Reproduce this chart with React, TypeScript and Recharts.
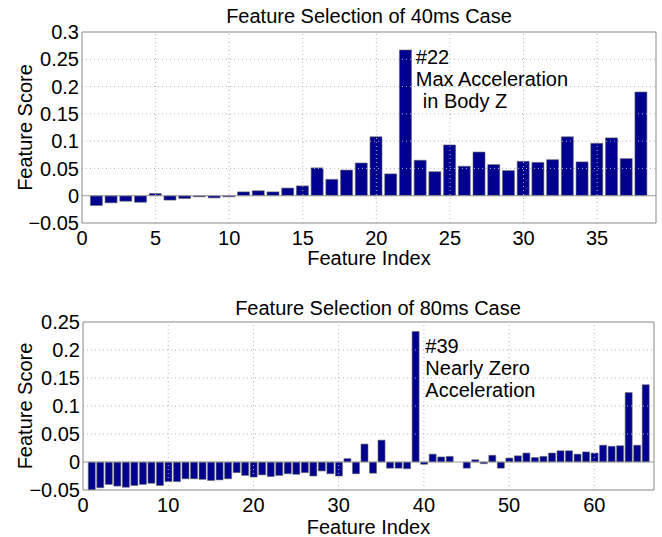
import { BarChart, Bar, XAxis, YAxis, ReferenceLine, ReferenceDot } from 'recharts';

// feature selection, 40ms window
const index40 = [1, 2, 3, 4, 5, 6, 7, 8, 9, 10, 11, 12, 13, 14, 15, 16, 17, 18, 19, 20,
  21, 22, 23, 24, 25, 26, 27, 28, 29, 30, 31, 32, 33, 34, 35, 36, 37, 38];
const scores40 = [-0.018, -0.013, -0.010, -0.012, 0.004, -0.008, -0.005, -0.002, -0.004, -0.002,
  0.007, 0.009, 0.007, 0.014, 0.018, 0.051, 0.030, 0.047, 0.060, 0.108,
  0.040, 0.267, 0.065, 0.044, 0.093, 0.054, 0.080, 0.057, 0.046, 0.063,
  0.061, 0.066, 0.108, 0.062, 0.096, 0.106, 0.068, 0.190];
const xTicks40 = [0, 5, 10, 15, 20, 25, 30, 35];
const yTicks40 = [-0.05, 0, 0.05, 0.1, 0.15, 0.2, 0.25, 0.3];
const note40 = ['#22', 'Max Acceleration', 'in Body Z'];

// feature selection, 80ms window
const index80 = [1, 2, 3, 4, 5, 6, 7, 8, 9, 10, 11, 12, 13, 14, 15, 16, 17, 18, 19, 20,
  21, 22, 23, 24, 25, 26, 27, 28, 29, 30, 31, 32, 33, 34, 35, 36, 37, 38, 39, 40,
  41, 42, 43, 44, 45, 46, 47, 48, 49, 50, 51, 52, 53, 54, 55, 56, 57, 58, 59, 60,
  61, 62, 63, 64, 65, 66];
const scores80 = [-0.050, -0.046, -0.040, -0.043, -0.045, -0.042, -0.040, -0.038, -0.042, -0.035,
  -0.035, -0.030, -0.030, -0.031, -0.033, -0.032, -0.030, -0.019, -0.024, -0.027,
  -0.023, -0.026, -0.024, -0.021, -0.022, -0.019, -0.025, -0.016, -0.021, -0.025,
  0.006, -0.021, 0.032, -0.020, 0.039, -0.011, -0.011, -0.012, 0.233, -0.004,
  0.014, 0.009, 0.010, 0, -0.011, 0.004, -0.003, 0.012, -0.011, 0.007,
  0.011, 0.016, 0.008, 0.010, 0.016, 0.020, 0.020, 0.014, 0.018, 0.016,
  0.030, 0.028, 0.029, 0.124, 0.030, 0.138];
const xTicks80 = [0, 10, 20, 30, 40, 50, 60];
const yTicks80 = [-0.05, 0, 0.05, 0.1, 0.15, 0.2, 0.25];
const note80 = ['#39', 'Nearly Zero', 'Acceleration'];

const FONT = '"Liberation Sans", Arial, sans-serif';
const BAR = '#00008F';
const AXIS = '#888';
const GRID = '#b4b4b4';

const fmtY = (v: number) => String(Math.round(v * 100) / 100).replace('-', '\u2212');

// text block next to a highlighted bar
const noteLabel = (lines: string[], dx: number, dy: number, indent: number[]) => (props: any) => {
  const { viewBox } = props;
  const x = viewBox.x + dx;
  const y = viewBox.y + dy;
  return (
    <text x={x} y={y} fontSize={20} fontFamily={FONT} fill="#000">
      {lines.map((l, i) => (
        <tspan key={i} x={x + (indent[i] || 0)} dy={i === 0 ? 0 : 22}>{l}</tspan>
      ))}
    </text>
  );
};

function Panel(props: {
  idx: number[]; vals: number[]; xMax: number; xTicks: number[]; yTicks: number[];
  height: number; top: number; right: number; xH: number; yW: number; barSize: number;
  hi: number; note: string[]; ndx: number; ndy: number; indent: number[]; labelOff: number;
}) {
  const data = props.idx.map((n, i) => ({ idx: n, score: props.vals[i] }));
  const yMin = props.yTicks[0];
  const yMax = props.yTicks[props.yTicks.length - 1];
  const tick = { fill: '#000', fontSize: 20, fontFamily: FONT };
  return (
    <BarChart width={662} height={props.height} data={data}
      margin={{ top: props.top, right: props.right, bottom: 0, left: 0 }}>
      <XAxis dataKey="idx" type="number" domain={[0, props.xMax]} ticks={props.xTicks}
        interval={0} allowDataOverflow height={props.xH} stroke={AXIS} tickLine={false} tick={tick}
        label={{ value: 'Feature Index', position: 'insideBottom', offset: props.labelOff, fill: '#000', fontSize: 20, fontFamily: FONT }} />
      <YAxis type="number" domain={[yMin, yMax]} ticks={props.yTicks} interval={0} allowDataOverflow
        width={props.yW} stroke={AXIS} tickLine={false} tickSize={0} tickMargin={3}
        tickFormatter={fmtY} tick={tick}
        label={{ value: 'Feature Score', angle: -90, position: 'insideLeft', offset: 25,
          fill: '#000', fontSize: 20, fontFamily: FONT, style: { textAnchor: 'middle' } }} />
      {/* dotted grid */}
      {props.xTicks.slice(1).map(t => (
        <ReferenceLine key={'gx' + t} x={t} stroke={GRID} strokeDasharray="1 3" />
      ))}
      {props.yTicks.slice(1, -1).filter(t => t !== 0).map(t => (
        <ReferenceLine key={'gy' + t} y={t} stroke={GRID} strokeDasharray="1 3" />
      ))}
      <ReferenceLine y={yMax} stroke={AXIS} />
      <ReferenceLine x={props.xMax} stroke={AXIS} />
      <Bar dataKey="score" fill={BAR} stroke="#666" strokeWidth={0.6} barSize={props.barSize}
        isAnimationActive={false} />
      <ReferenceLine y={0} stroke="#999" />
      <ReferenceDot x={props.hi} y={props.vals[props.hi - 1]} r={0} fill="none" stroke="none"
        label={noteLabel(props.note, props.ndx, props.ndy, props.indent)} />
    </BarChart>
  );
}

export default function App() {
  const title = { position: 'absolute' as const, textAlign: 'center' as const,
    fontSize: 20, lineHeight: '20px', fontFamily: FONT, color: '#000' };
  return (
    <div style={{ position: 'absolute', left: 0, top: 0, width: 662, height: 537, background: '#fff' }}>
      <div style={{ position: 'absolute', left: 0, top: 0 }}>
        <Panel idx={index40} vals={scores40} xMax={39} xTicks={xTicks40} yTicks={yTicks40}
          height={280} top={32} right={6} xH={57} yW={82} barSize={12}
          hi={22} note={note40} ndx={10} ndy={14} indent={[0, 0, 7]} labelOff={15} />
      </div>
      <div style={{ position: 'absolute', left: 0, top: 280 }}>
        <Panel idx={index80} vals={scores80} xMax={67} xTicks={xTicks80} yTicks={yTicks80}
          height={257} top={42} right={8} xH={47} yW={83} barSize={7}
          hi={39} note={note80} ndx={10} ndy={21} indent={[0, 0, 0]} labelOff={3} />
      </div>
      <div style={{ ...title, left: 0, top: 6, width: 738 }}>Feature Selection of 40ms Case</div>
      <div style={{ ...title, left: 0, top: 298, width: 756 }}>Feature Selection of 80ms Case</div>
    </div>
  );
}
